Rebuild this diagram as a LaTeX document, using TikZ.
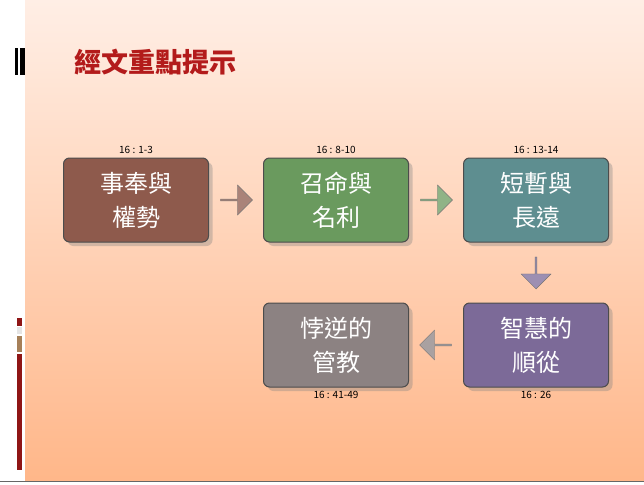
\documentclass[tikz,border=0pt]{standalone}
\usepackage{fontspec}
\setmainfont{Noto Sans CJK TC}
\usetikzlibrary{shapes.arrows,shadows,calc}
\definecolor{cA}{HTML}{8E5A4C}
\definecolor{cB}{HTML}{6A9A5E}
\definecolor{cC}{HTML}{5E8E90}
\definecolor{cD}{HTML}{7C6A98}
\definecolor{cE}{HTML}{8C8282}
\definecolor{ttl}{HTML}{B31B1B}
\tikzset{
 boxnode/.style={draw=black!70,line width=1pt,rounded corners=6pt,minimum width=145pt,minimum height=84pt,text=white,font=\fontsize{24}{34}\selectfont,align=center,inner sep=0pt,drop shadow={opacity=0.35,shadow xshift=4pt,shadow yshift=-4pt}},
 ref/.style={font=\fontsize{10}{12}\selectfont,text=black},
 blk/.style={single arrow,draw=black!55,minimum height=32pt,minimum width=30pt,single arrow head extend=3pt,inner sep=0pt}
}
\begin{document}
\begin{tikzpicture}[x=1pt,y=-1pt]
\useasboundingbox (0,0) rectangle (644,484);
\fill[white] (0,0) rectangle (644,484);
\shade[left color=pink!60!orange!30,right color=orange!65!red!50,shading angle=0] (25,0) rectangle (644,480);
\shade[top color=white,bottom color=orange!40,opacity=0.4] (25,0) rectangle (644,480);
\draw[black!60,line width=1pt] (0,481) -- (644,481);
\fill[black] (15,48) rectangle (18,75);
\fill[black] (20,48) rectangle (25,75);
\fill[ttl!80!black] (17,318) rectangle (22,326);
\fill[black!10] (17,327) rectangle (22,334);
\fill[brown!60!gray] (17,336) rectangle (22,352);
\fill[ttl!80!black] (17,354) rectangle (22,470);
\node[font=\fontsize{27}{30}\bfseries\selectfont,text=ttl,anchor=west] (title) at (71,62) {經文重點提示};
\node[boxnode,fill=cA] (b1) at (136,200) {事奉與\\權勢};
\node[boxnode,fill=cB] (b2) at (336,200) {召命與\\名利};
\node[boxnode,fill=cC] (b3) at (536,200) {短暫與\\長遠};
\node[boxnode,fill=cD] (b5) at (536,345) {智慧的\\順從};
\node[boxnode,fill=cE] (b4) at (336,345) {悖逆的\\管教};
\node[ref,anchor=south] (r1) at (b1.north) {16 : 1-3};
\node[ref,anchor=south] (r2) at (b2.north) {16 : 8-10};
\node[ref,anchor=south] (r3) at (b3.north) {16 : 13-14};
\node[ref,anchor=north] (r4) at (b4.south) {16 : 41-49};
\node[ref,anchor=north] (r5) at (b5.south) {16 : 26};
\node[blk,fill=cA!75!white] (a1) at ($(b1.east)!0.5!(b2.west)$) {};
\node[blk,fill=cB!75!white] (a2) at ($(b2.east)!0.5!(b3.west)$) {};
\node[blk,fill=cD!75!white,shape border rotate=270] (a3) at ($(b3.south)!0.5!(b5.north)$) {};
\node[blk,fill=cE!75!white,shape border rotate=180] (a4) at ($(b5.west)!0.5!(b4.east)$) {};
\end{tikzpicture}
\end{document}
